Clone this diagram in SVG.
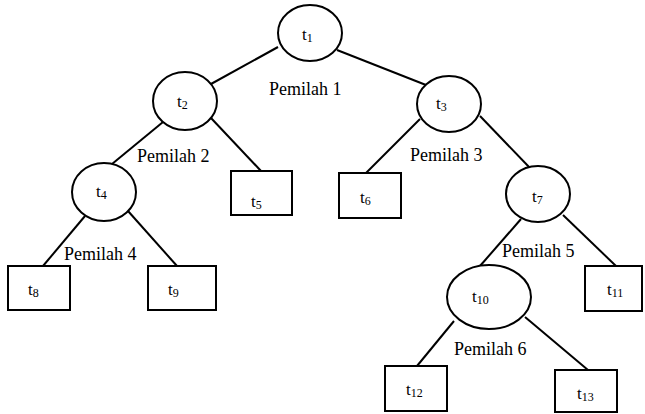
<svg xmlns="http://www.w3.org/2000/svg" width="645" height="414" viewBox="0 0 645 414">
<style>
.n{fill:#fff;stroke:#000;stroke-width:2}
.e line{stroke:#000;stroke-width:2}
text{font-family:"Liberation Serif","Times New Roman",serif;fill:#000}
.t{font-size:17px}
.s{font-size:12px}
.lb{font-size:18px}
</style>
<rect width="645" height="414" fill="#fff"/>
<g id="connectors" class="e">
<line x1="278" y1="47" x2="211" y2="84"/>
<line x1="337" y1="50" x2="426" y2="85"/>
<line x1="163" y1="122" x2="112" y2="164"/>
<line x1="211" y1="118" x2="261" y2="171"/>
<line x1="420" y1="119" x2="366" y2="173"/>
<line x1="480" y1="116" x2="530" y2="168"/>
<line x1="85" y1="216" x2="43" y2="266"/>
<line x1="128" y1="211" x2="177" y2="266"/>
<line x1="521" y1="219" x2="480" y2="266"/>
<line x1="563" y1="215" x2="616" y2="266"/>
<line x1="454" y1="321" x2="417" y2="366"/>
<line x1="525" y1="317" x2="588" y2="370"/>
</g>
<g id="t1"><ellipse class="n" cx="310" cy="33" rx="32" ry="28"/><text class="t" x="302" y="40">t<tspan class="s" dy="2">1</tspan></text></g>
<g id="t2"><ellipse class="n" cx="185" cy="101" rx="32" ry="29"/><text class="t" x="177" y="107">t<tspan class="s" dy="2">2</tspan></text></g>
<g id="t3"><ellipse class="n" cx="449" cy="104" rx="32" ry="28"/><text class="t" x="436" y="109">t<tspan class="s" dy="2">3</tspan></text></g>
<g id="t4"><ellipse class="n" cx="104" cy="192" rx="32" ry="29"/><text class="t" x="96" y="197">t<tspan class="s" dy="2">4</tspan></text></g>
<g id="t5"><rect class="n" x="231" y="171" width="61" height="44"/><text class="t" x="251" y="207">t<tspan class="s" dy="2">5</tspan></text></g>
<g id="t6"><rect class="n" x="339" y="173" width="62" height="45"/><text class="t" x="360" y="203">t<tspan class="s" dy="2">6</tspan></text></g>
<g id="t7"><ellipse class="n" cx="538" cy="194" rx="32" ry="28"/><text class="t" x="532" y="202">t<tspan class="s" dy="2">7</tspan></text></g>
<g id="t8"><rect class="n" x="8" y="266" width="62" height="44"/><text class="t" x="28" y="295">t<tspan class="s" dy="2">8</tspan></text></g>
<g id="t9"><rect class="n" x="148" y="266" width="68" height="44"/><text class="t" x="168" y="295">t<tspan class="s" dy="2">9</tspan></text></g>
<g id="t10"><ellipse class="n" cx="489" cy="297" rx="42" ry="32"/><text class="t" x="472" y="302">t<tspan class="s" dy="2">10</tspan></text></g>
<g id="t11"><rect class="n" x="585" y="266" width="57" height="45"/><text class="t" x="607" y="295">t<tspan class="s" dy="2">11</tspan></text></g>
<g id="t12"><rect class="n" x="385" y="366" width="62" height="45"/><text class="t" x="406" y="395">t<tspan class="s" dy="2">12</tspan></text></g>
<g id="t13"><rect class="n" x="555" y="370" width="62" height="42"/><text class="t" x="577" y="399">t<tspan class="s" dy="2">13</tspan></text></g>
<g id="labels">
<text class="lb" x="269" y="95">Pemilah 1</text>
<text class="lb" x="137" y="162">Pemilah 2</text>
<text class="lb" x="410" y="161">Pemilah 3</text>
<text class="lb" x="64" y="260">Pemilah 4</text>
<text class="lb" x="502" y="257">Pemilah 5</text>
<text class="lb" x="454" y="355">Pemilah 6</text>
</g>
</svg>
